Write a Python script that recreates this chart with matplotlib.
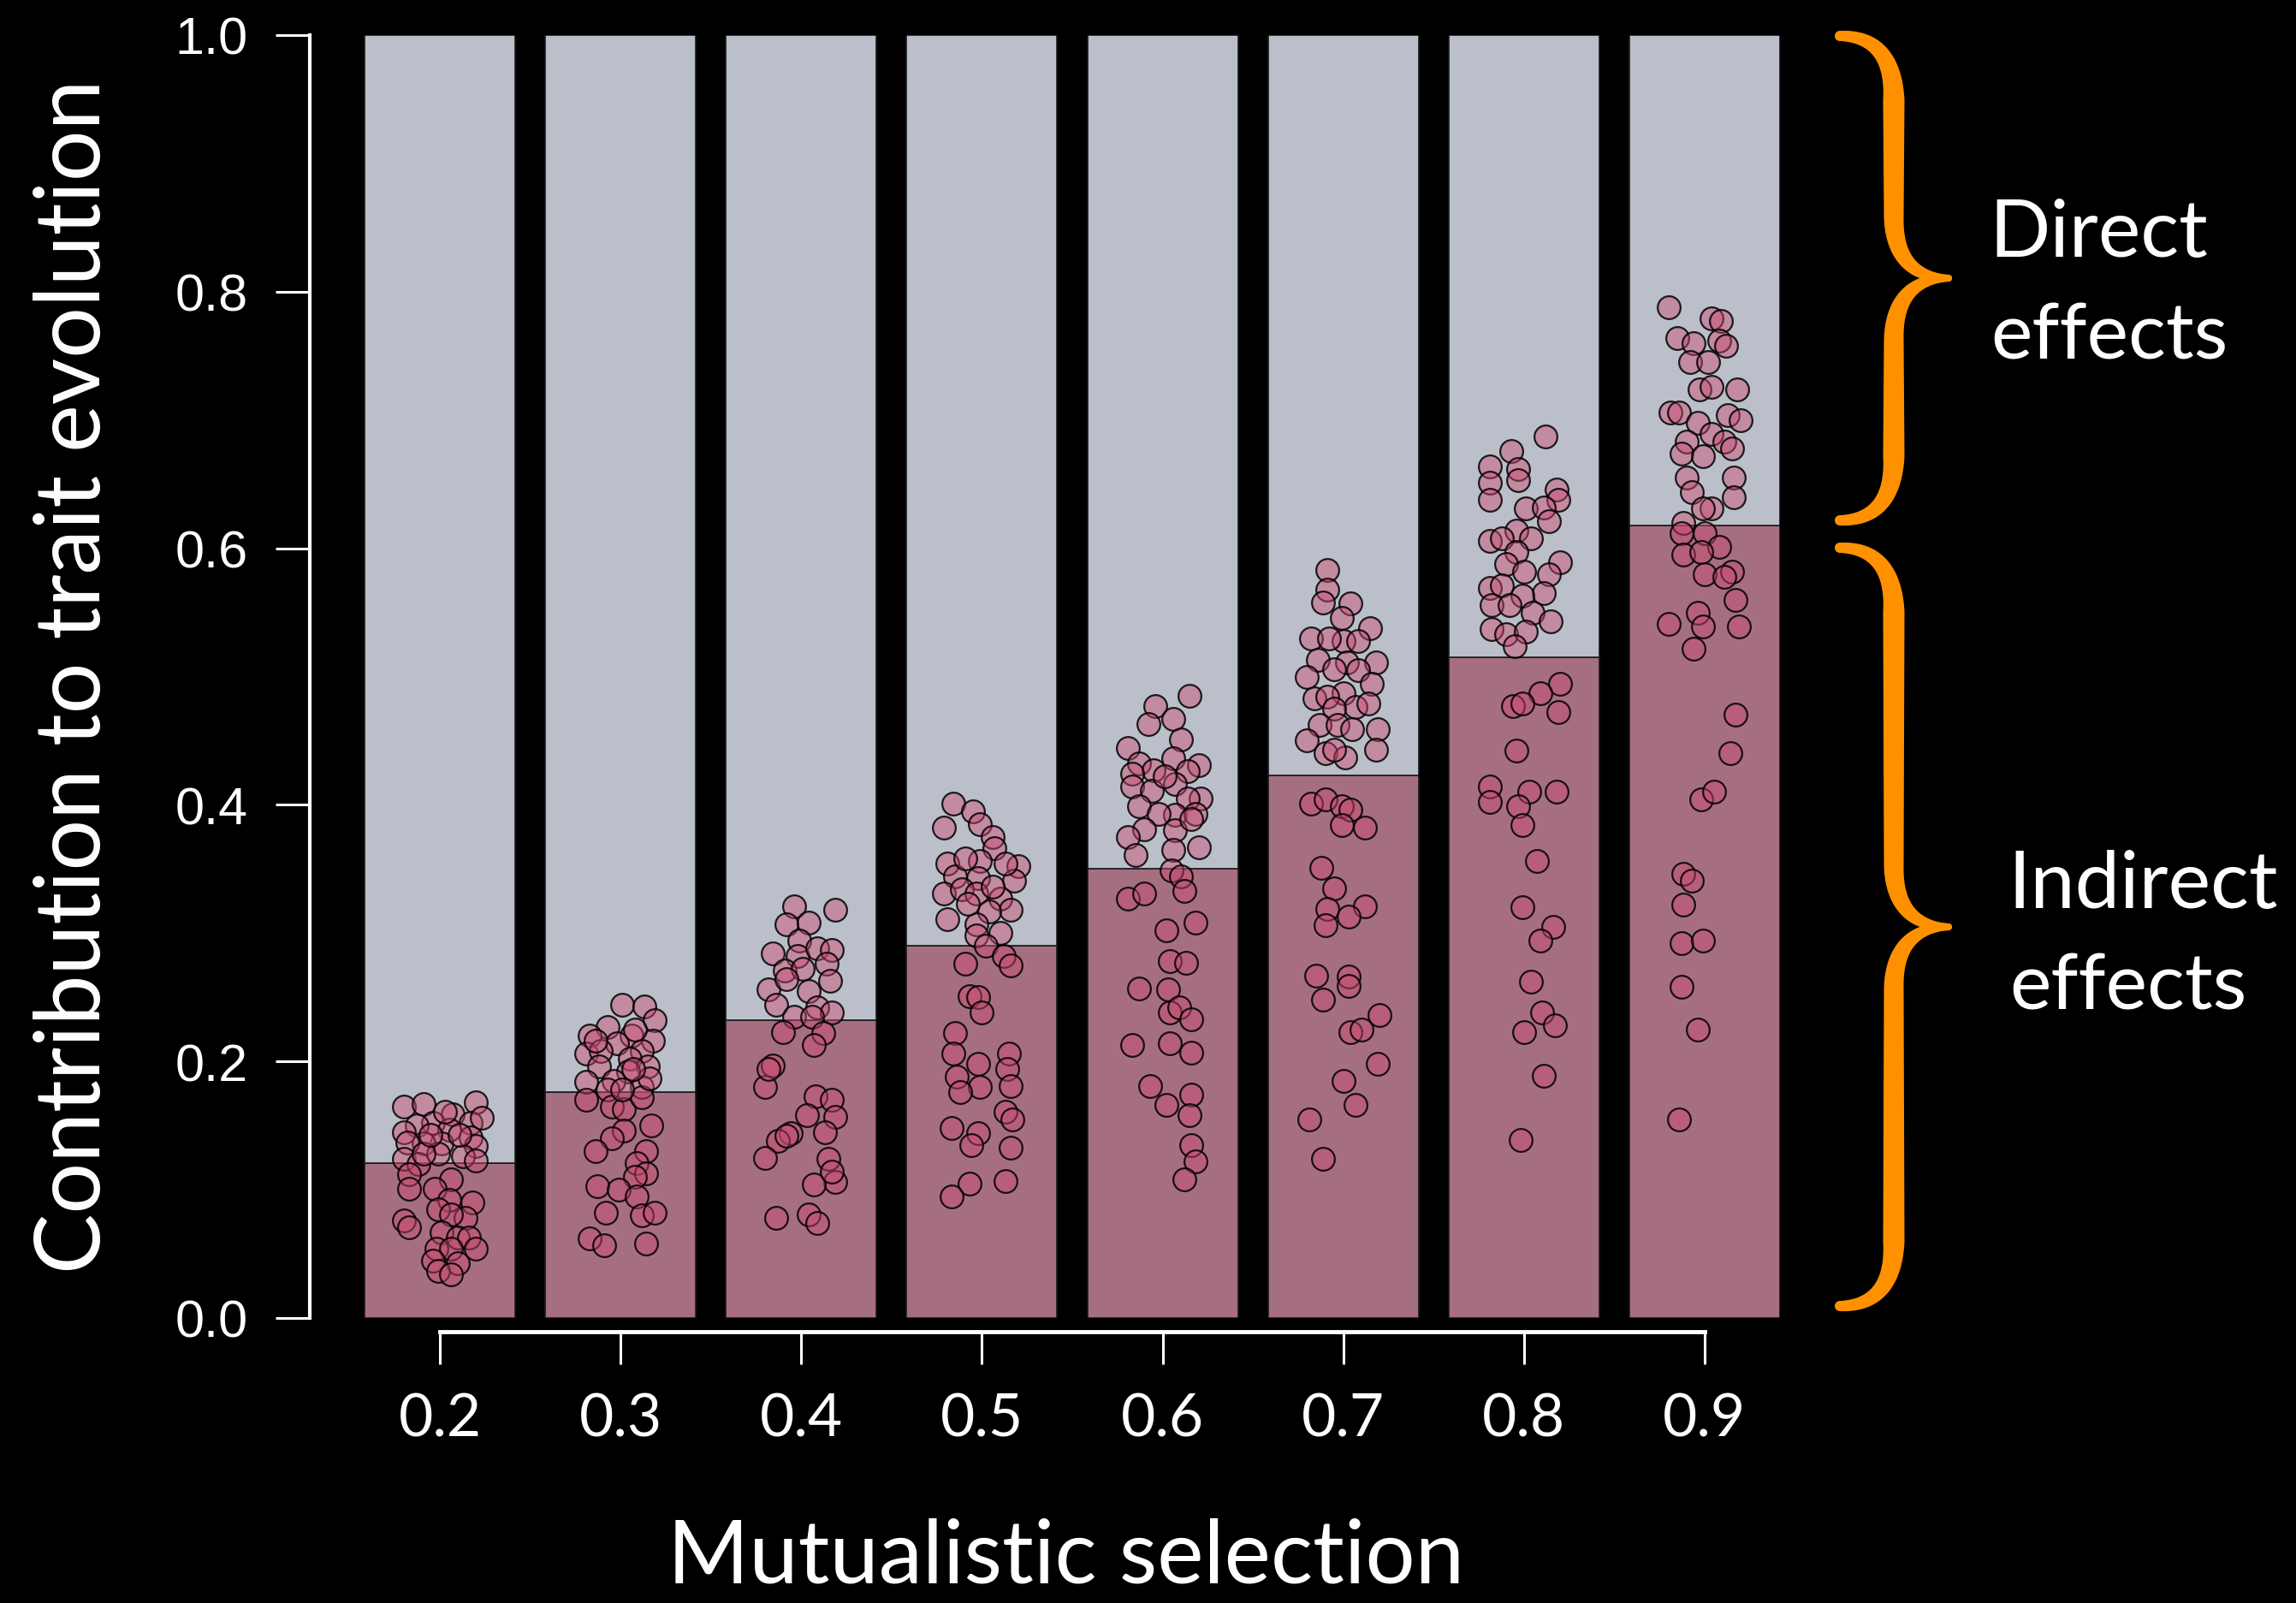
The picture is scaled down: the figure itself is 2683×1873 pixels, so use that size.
import numpy as np
import matplotlib
matplotlib.use("Agg")
import matplotlib.pyplot as plt
from matplotlib.patches import Polygon, Circle

# ---------------- data ----------------
selection = [0.2, 0.3, 0.4, 0.5, 0.6, 0.7, 0.8, 0.9]
x_labels = ["0.2", "0.3", "0.4", "0.5", "0.6", "0.7", "0.8", "0.9"]
indirect_mean = [0.121, 0.176, 0.232, 0.290, 0.350, 0.423, 0.515, 0.618]
y_ticks = [0.0, 0.2, 0.4, 0.6, 0.8, 1.0]
y_labels = ["0.0", "0.2", "0.4", "0.6", "0.8", "1.0"]

y_02 = [0.165, 0.167, 0.168, 0.159, 0.152, 0.152, 0.150, 0.145, 0.147, 0.136, 0.141, 0.134, 0.136, 0.137,
        0.126, 0.124, 0.120, 0.128, 0.123, 0.128, 0.112, 0.108, 0.101, 0.101, 0.092, 0.090, 0.085, 0.078,
        0.076, 0.071, 0.081, 0.067, 0.063, 0.063, 0.054, 0.054, 0.054, 0.045, 0.043, 0.037, 0.034, 0.143,
        0.143, 0.156, 0.161]
dx_02 = [-0.020, -0.009, 0.020, 0.007, 0.017, -0.004, -0.013, -0.020, 0.005, 0.001, 0.017, 0.020, -0.009, -0.018,
         0.013, -0.020, -0.012, -0.001, 0.020, -0.009, -0.017, 0.006, -0.017, -0.003, 0.005, 0.018, -0.001, 0.014,
         -0.020, -0.017, 0.006, 0.001, 0.010, 0.016, 0.020, -0.002, 0.006, -0.004, 0.010, -0.001, 0.006, 0.011,
         -0.005, 0.023, 0.003]

y_03 = [0.244, 0.243, 0.232, 0.227, 0.220, 0.220, 0.216, 0.214, 0.206, 0.208, 0.208, 0.202, 0.196, 0.196,
        0.192, 0.184, 0.185, 0.180, 0.178, 0.170, 0.165, 0.163, 0.172, 0.150, 0.146, 0.140, 0.130, 0.130,
        0.121, 0.113, 0.110, 0.103, 0.100, 0.095, 0.082, 0.080, 0.082, 0.062, 0.057, 0.058, 0.216, 0.225,
        0.187, 0.178, 0.194]
dx_03 = [0.001, 0.013, 0.019, -0.007, -0.017, 0.006, 0.018, -0.002, -0.019, -0.011, 0.012, 0.005, -0.012, 0.015,
         0.004, -0.019, -0.004, 0.012, -0.007, -0.019, -0.005, 0.002, 0.012, 0.017, 0.002, -0.005, -0.014, 0.014,
         0.009, 0.014, 0.008, -0.013, -0.001, 0.009, -0.008, 0.012, 0.019, -0.017, -0.009, 0.014, -0.014, 0.008,
         0.016, 0.001, 0.007]

y_04 = [0.321, 0.318, 0.307, 0.308, 0.294, 0.284, 0.282, 0.288, 0.287, 0.276, 0.271, 0.272, 0.263, 0.256,
        0.264, 0.255, 0.244, 0.242, 0.235, 0.238, 0.235, 0.223, 0.222, 0.213, 0.197, 0.180, 0.173, 0.170,
        0.158, 0.157, 0.145, 0.144, 0.138, 0.125, 0.124, 0.106, 0.104, 0.078, 0.081, 0.074, 0.194, 0.142,
        0.114]
dx_04 = [-0.004, 0.019, -0.008, 0.004, -0.001, -0.016, -0.002, 0.009, 0.017, 0.014, -0.009, 0.001, 0.016, -0.018,
         -0.008, 0.004, -0.014, 0.009, -0.004, 0.017, 0.006, -0.010, 0.012, 0.007, -0.016, -0.020, 0.008, 0.017,
         0.003, 0.019, 0.013, -0.006, -0.013, -0.020, 0.015, 0.019, 0.007, -0.014, 0.004, 0.009, -0.018, -0.008,
         0.017]

y_05 = [0.401, 0.395, 0.382, 0.385, 0.375, 0.366, 0.354, 0.356, 0.352, 0.344, 0.343, 0.341, 0.331, 0.334,
        0.327, 0.331, 0.318, 0.311, 0.317, 0.307, 0.298, 0.300, 0.290, 0.282, 0.276, 0.275, 0.251, 0.250,
        0.238, 0.222, 0.206, 0.206, 0.198, 0.194, 0.188, 0.180, 0.181, 0.176, 0.161, 0.155, 0.148, 0.144,
        0.135, 0.133, 0.107, 0.105, 0.095, 0.358, 0.354, 0.336, 0.323]
dx_05 = [-0.016, -0.005, -0.021, -0.001, 0.006, 0.007, -0.019, -0.001, 0.020, -0.015, -0.002, 0.018, -0.021, -0.011,
         0.010, -0.003, 0.016, -0.019, 0.004, -0.003, -0.003, 0.010, 0.002, 0.012, -0.009, 0.016, -0.007, -0.002,
         0.000, -0.015, -0.016, 0.015, -0.002, 0.014, -0.014, -0.001, 0.016, -0.012, 0.013, 0.017, -0.017, -0.002,
         -0.006, 0.016, 0.013, -0.007, -0.017, -0.009, 0.013, 0.006, -0.008]

y_06 = [0.485, 0.477, 0.463, 0.467, 0.451, 0.444, 0.432, 0.436, 0.431, 0.427, 0.424, 0.426, 0.414, 0.416,
        0.411, 0.405, 0.405, 0.399, 0.392, 0.393, 0.393, 0.381, 0.375, 0.380, 0.361, 0.365, 0.367, 0.349,
        0.344, 0.333, 0.327, 0.331, 0.308, 0.302, 0.278, 0.277, 0.257, 0.256, 0.238, 0.242, 0.233, 0.213,
        0.214, 0.207, 0.181, 0.166, 0.174, 0.158, 0.135, 0.122, 0.108, 0.422, 0.389]
dx_06 = [0.015, -0.004, -0.008, 0.006, 0.010, -0.019, -0.013, 0.006, 0.020, -0.005, -0.017, 0.014, -0.017, 0.007,
         -0.006, 0.021, 0.014, -0.013, 0.007, 0.018, -0.002, -0.010, -0.019, 0.007, -0.015, 0.006, 0.020, 0.005,
         0.010, 0.012, -0.019, -0.010, 0.018, 0.002, 0.004, 0.013, -0.013, 0.003, 0.004, 0.009, 0.016, -0.017,
         0.004, 0.016, -0.007, 0.002, 0.016, 0.015, 0.016, 0.018, 0.012, 0.001, 0.016]

y_07 = [0.583, 0.568, 0.558, 0.557, 0.546, 0.538, 0.530, 0.528, 0.528, 0.530, 0.513, 0.511, 0.511, 0.500,
        0.505, 0.506, 0.494, 0.487, 0.483, 0.484, 0.476, 0.479, 0.475, 0.462, 0.462, 0.459, 0.459, 0.450,
        0.440, 0.437, 0.443, 0.443, 0.401, 0.404, 0.399, 0.396, 0.384, 0.382, 0.351, 0.335, 0.321, 0.319,
        0.313, 0.306, 0.267, 0.266, 0.259, 0.248, 0.236, 0.223, 0.225, 0.198, 0.185, 0.166, 0.155, 0.124]
dx_07 = [-0.009, -0.009, -0.011, 0.004, -0.001, 0.015, -0.018, 0.000, 0.008, -0.008, -0.014, 0.018, 0.002, -0.020,
         0.008, -0.005, 0.016, 0.000, -0.016, -0.009, 0.007, 0.014, -0.005, -0.013, -0.003, 0.019, 0.005, -0.020,
         -0.010, 0.001, 0.018, -0.005, -0.018, -0.010, -0.001, 0.004, -0.001, 0.012, -0.012, -0.005, 0.012, -0.009,
         0.003, -0.010, -0.015, 0.003, 0.003, -0.011, 0.020, 0.004, 0.010, 0.019, 0.000, 0.007, -0.019, -0.011]

y_08 = [0.687, 0.676, 0.664, 0.662, 0.651, 0.653, 0.646, 0.638, 0.638, 0.631, 0.632, 0.621, 0.614, 0.606,
        0.608, 0.608, 0.597, 0.589, 0.588, 0.582, 0.580, 0.569, 0.571, 0.565, 0.563, 0.556, 0.556, 0.550,
        0.543, 0.537, 0.533, 0.535, 0.524, 0.494, 0.487, 0.477, 0.479, 0.472, 0.442, 0.414, 0.402, 0.410,
        0.410, 0.399, 0.384, 0.356, 0.320, 0.305, 0.294, 0.262, 0.238, 0.228, 0.223, 0.189, 0.139]
dx_08 = [0.012, -0.007, -0.019, -0.003, -0.019, -0.003, 0.018, -0.019, 0.019, 0.001, 0.011, 0.014, -0.004, -0.019,
         -0.012, 0.004, -0.004, 0.020, -0.010, 0.000, 0.014, -0.019, -0.012, 0.011, -0.001, -0.018, -0.008, 0.005,
         0.015, -0.018, -0.010, 0.001, -0.005, 0.020, 0.009, -0.006, -0.001, 0.019, -0.004, -0.019, -0.019, 0.003,
         0.018, -0.003, -0.001, 0.007, -0.001, 0.016, 0.009, 0.004, 0.010, 0.017, 0.000, 0.011, -0.002]

y_09 = [0.788, 0.779, 0.777, 0.764, 0.760, 0.762, 0.758, 0.745, 0.745, 0.724, 0.726, 0.724, 0.706, 0.706,
        0.704, 0.700, 0.698, 0.689, 0.683, 0.683, 0.674, 0.672, 0.678, 0.655, 0.655, 0.644, 0.640, 0.631,
        0.631, 0.620, 0.612, 0.612, 0.601, 0.595, 0.597, 0.580, 0.582, 0.578, 0.560, 0.550, 0.541, 0.539,
        0.539, 0.522, 0.470, 0.440, 0.404, 0.410, 0.346, 0.341, 0.322, 0.292, 0.294, 0.258, 0.225, 0.155]
dx_09 = [-0.020, 0.004, 0.009, -0.015, -0.006, 0.008, 0.012, -0.008, 0.002, -0.003, 0.004, 0.018, -0.019, -0.014,
         0.013, 0.020, -0.004, 0.004, -0.010, 0.011, -0.013, -0.001, 0.015, -0.010, 0.016, -0.007, 0.016, 0.004,
         -0.001, -0.012, -0.013, 0.000, 0.008, -0.012, -0.002, 0.000, 0.015, 0.011, 0.017, -0.004, -0.020, -0.001,
         0.019, -0.006, 0.017, 0.014, -0.002, 0.005, -0.012, -0.007, -0.012, -0.013, -0.001, -0.013, -0.004, -0.014]

points_y = [y_02, y_03, y_04, y_05, y_06, y_07, y_08, y_09]
points_dx = [dx_02, dx_03, dx_04, dx_05, dx_06, dx_07, dx_08, dx_09]

# ---------------- style ----------------
W, H = 2683, 1874
DPI = 100
BG = "black"
C_INDIRECT = "#A66F81"
C_DIRECT = "#BABFC9"
C_ORANGE = "#FF9100"
LATO = ["Lato", "DejaVu Sans"]
ARIAL = ["Liberation Sans", "DejaVu Sans"]

fig = plt.figure(figsize=(W / DPI, H / DPI), dpi=DPI, facecolor=BG)

ax_l, ax_r, ax_t, ax_b = 362, 2080, 42, 1541
ax = fig.add_axes([ax_l / W, 1 - ax_b / H, (ax_r - ax_l) / W, (ax_b - ax_t) / H])
ax.set_facecolor(BG)
ax.set_xlim(0.128, 0.9417)
ax.set_ylim(0, 1)

bar_w = 0.0834
ax.bar(selection, indirect_mean, width=bar_w, color=C_INDIRECT, edgecolor="#1a1a1a", linewidth=1.2, zorder=1)
ax.bar(selection, [1 - v for v in indirect_mean], bottom=indirect_mean, width=bar_w,
       color=C_DIRECT, edgecolor="#1a1a1a", linewidth=1.2, zorder=1)

for sel, ys, dxs in zip(selection, points_y, points_dx):
    xs = [sel + d for d in dxs]
    ax.scatter(xs, ys, s=370, facecolor=(0.80, 0.30, 0.45, 0.45),
               edgecolor=(0, 0, 0, 0.85), linewidth=1.6, zorder=3)

for side in ["top", "right"]:
    ax.spines[side].set_visible(False)
ax.spines["left"].set_color("white")
ax.spines["left"].set_linewidth(3)
ax.spines["left"].set_bounds(0, 1)
ax.spines["bottom"].set_color("white")
ax.spines["bottom"].set_linewidth(3.5)
ax.spines["bottom"].set_position(("outward", 11.5))
ax.spines["bottom"].set_bounds(0.2, 0.9)

ax.set_yticks(y_ticks)
ax.set_yticklabels(y_labels, fontfamily=ARIAL, fontsize=44, color="white")
ax.set_xticks(selection)
ax.set_xticklabels(x_labels, fontfamily=LATO, fontsize=50, color="white")
ax.tick_params(axis="y", length=29, width=2.2, color="white", pad=23, direction="out")
ax.tick_params(axis="x", length=27, width=2.2, color="white", pad=24, direction="out")

# axis titles
fig.text(117 / W, 1 - 790 / H, "Contribution to trait evolution", rotation=90, rotation_mode="anchor",
         ha="center", va="baseline", fontfamily=LATO, fontsize=76, color="white")
fig.text(1246 / W, 1 - 1850 / H, "Mutualistic selection", ha="center", va="baseline",
         fontfamily=LATO, fontsize=74, color="white")

# annotations
fig.text(2324 / W, 1 - 300 / H, "Direct", ha="left", va="baseline", fontfamily=LATO, fontsize=67.5, color="white")
fig.text(2326 / W, 1 - 420 / H, "effects", ha="left", va="baseline", fontfamily=LATO, fontsize=66, color="white")
fig.text(2346 / W, 1 - 1061 / H, "Indirect", ha="left", va="baseline", fontfamily=LATO, fontsize=67.5, color="white")
fig.text(2348 / W, 1 - 1180 / H, "effects", ha="left", va="baseline", fontfamily=LATO, fontsize=66, color="white")

# curly braces in a pixel-space overlay
ov = fig.add_axes([0, 0, 1, 1], facecolor="none")
ov.set_xlim(0, W)
ov.set_ylim(H, 0)
ov.axis("off")


def bez(p0, p1, p2, p3, n=60):
    t = np.linspace(0, 1, n)[:, None]
    p0, p1, p2, p3 = map(np.asarray, (p0, p1, p2, p3))
    return (1 - t) ** 3 * p0 + 3 * (1 - t) ** 2 * t * p1 + 3 * (1 - t) * t ** 2 * p2 + t ** 3 * p3


def half_brace(x_end, y_end, x_vert, x_tip, y_mid, r1=75, r2=72, w_end=12, w_max=25, w_tip=8):
    s = 1 if y_mid > y_end else -1
    a = bez((x_end, y_end), (x_vert - 15, y_end), (x_vert, y_end + s * r1 * 0.45), (x_vert, y_end + s * r1))
    b0 = np.array([x_vert, y_end + s * r1]); b1 = np.array([x_vert, y_mid - s * r2])
    t = np.linspace(0, 1, 40)[:, None]
    b = b0 + (b1 - b0) * t
    c = bez((x_vert, y_mid - s * r2), (x_vert, y_mid - s * r2 * 0.35), (x_vert + 0.35 * (x_tip - x_vert), y_mid),
            (x_tip, y_mid))
    pts = np.vstack([a, b[1:], c[1:]])
    wa = np.linspace(w_end, w_max, len(a))
    wb = np.linspace(w_max, w_max - 2, len(b))[1:]
    tc = np.linspace(0, 1, len(c))[1:]
    wc = (w_max - 2) + (w_tip - (w_max - 2)) * tc ** 1.3
    w = np.concatenate([wa, wb, wc])
    d = np.gradient(pts, axis=0)
    d /= np.linalg.norm(d, axis=1)[:, None]
    nrm = np.column_stack([-d[:, 1], d[:, 0]])
    left = pts + nrm * w[:, None] / 2
    right = pts - nrm * w[:, None] / 2
    poly = np.vstack([left, right[::-1]])
    ov.add_patch(Polygon(poly, closed=True, facecolor=C_ORANGE, edgecolor="none"))
    ov.add_patch(Circle((x_end, y_end), w_end / 2, facecolor=C_ORANGE, edgecolor="none"))
    ov.add_patch(Circle((x_tip, y_mid), w_tip / 2, facecolor=C_ORANGE, edgecolor="none"))


def brace(y_top, y_bot, x_end=2150, x_vert=2213, x_tip=2277):
    ym = (y_top + y_bot) / 2
    half_brace(x_end, y_top, x_vert, x_tip, ym)
    half_brace(x_end, y_bot, x_vert, x_tip, ym)


brace(43, 609)
brace(641, 1527)

fig.savefig("out.png", dpi=DPI, facecolor=BG)
